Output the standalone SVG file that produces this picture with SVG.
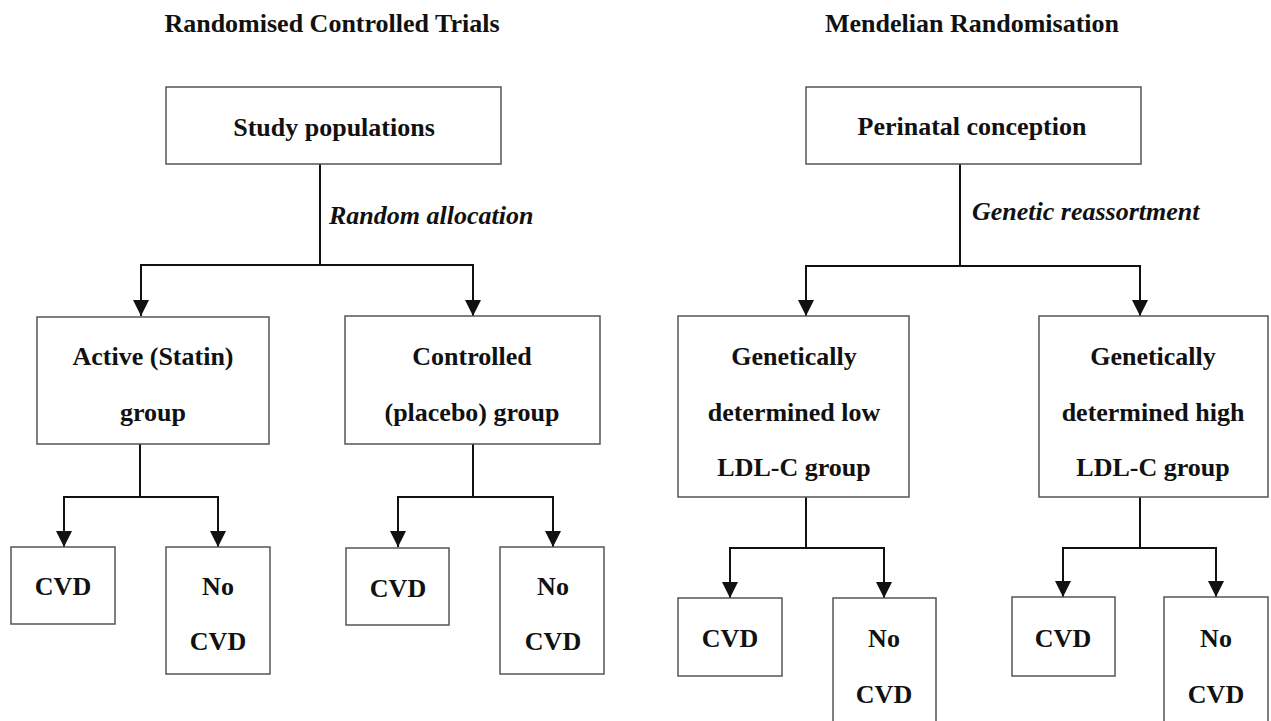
<svg xmlns="http://www.w3.org/2000/svg" width="1271" height="721" viewBox="0 0 1271 721">
<style>
  text { font-family: "Liberation Serif", "Times New Roman", serif; font-weight: bold; font-size: 26px; fill: #111; text-anchor: middle; }
  .lbl { font-style: italic; text-anchor: start; }
  .box { fill: #fff; stroke: #555; stroke-width: 1.5; }
  .edge { fill: none; stroke: #111; stroke-width: 2; marker-end: url(#arr); }
</style>
<defs>
  <marker id="arr" markerUnits="userSpaceOnUse" markerWidth="16" markerHeight="16" refX="16" refY="8" orient="auto" viewBox="0 0 16 16">
    <path d="M0,0 L16,8 L0,16 z" fill="#111"/>
  </marker>
</defs>
<rect width="1271" height="721" fill="#fff"/>

<text id="title-rct" x="332" y="32">Randomised Controlled Trials</text>
<text id="title-mr" x="972" y="32">Mendelian Randomisation</text>

<g id="connectors">
  <path class="edge" d="M320,164 V265 H141 V316"/>
  <path class="edge" d="M320,164 V265 H473 V316"/>
  <path class="edge" d="M140,444 V497 H64 V547"/>
  <path class="edge" d="M140,444 V497 H218 V547"/>
  <path class="edge" d="M473,444 V497 H398 V547"/>
  <path class="edge" d="M473,444 V497 H553 V547"/>
  <path class="edge" d="M960,164 V266 H806 V316"/>
  <path class="edge" d="M960,164 V266 H1140 V316"/>
  <path class="edge" d="M806,497 V548 H730 V598"/>
  <path class="edge" d="M806,497 V548 H884 V598"/>
  <path class="edge" d="M1140,497 V548 H1063 V597"/>
  <path class="edge" d="M1140,497 V548 H1216 V597"/>
  <text class="lbl" x="329" y="224">Random allocation</text>
  <text class="lbl" x="972" y="220">Genetic reassortment</text>
</g>

<g id="study">
  <rect class="box" x="166" y="87" width="335" height="77"/>
  <text x="334" y="136">Study populations</text>
</g>
<g id="active">
  <rect class="box" x="37" y="317" width="232" height="127"/>
  <text x="153" y="365">Active (Statin)</text>
  <text x="153" y="421">group</text>
</g>
<g id="controlled">
  <rect class="box" x="345" y="316" width="255" height="128"/>
  <text x="472" y="365">Controlled</text>
  <text x="472" y="421">(placebo) group</text>
</g>
<g id="rct-a-cvd">
  <rect class="box" x="11" y="547" width="104" height="77"/>
  <text x="63" y="595">CVD</text>
</g>
<g id="rct-a-nocvd">
  <rect class="box" x="166" y="547" width="104" height="127"/>
  <text x="218" y="595">No</text>
  <text x="218" y="650">CVD</text>
</g>
<g id="rct-c-cvd">
  <rect class="box" x="346" y="548" width="103" height="77"/>
  <text x="398" y="597">CVD</text>
</g>
<g id="rct-c-nocvd">
  <rect class="box" x="500" y="547" width="104" height="127"/>
  <text x="553" y="595">No</text>
  <text x="553" y="650">CVD</text>
</g>

<g id="perinatal">
  <rect class="box" x="806" y="87" width="335" height="77"/>
  <text x="972" y="135">Perinatal conception</text>
</g>
<g id="gen-low">
  <rect class="box" x="678" y="316" width="231" height="181"/>
  <text x="794" y="365">Genetically</text>
  <text x="794" y="421">determined low</text>
  <text x="794" y="476">LDL-C group</text>
</g>
<g id="gen-high">
  <rect class="box" x="1039" y="316" width="229" height="181"/>
  <text x="1153" y="365">Genetically</text>
  <text x="1153" y="421">determined high</text>
  <text x="1153" y="476">LDL-C group</text>
</g>
<g id="mr-l-cvd">
  <rect class="box" x="678" y="598" width="104" height="78"/>
  <text x="730" y="647">CVD</text>
</g>
<g id="mr-l-nocvd">
  <rect class="box" x="833" y="598" width="103" height="132"/>
  <text x="884" y="647">No</text>
  <text x="884" y="703">CVD</text>
</g>
<g id="mr-h-cvd">
  <rect class="box" x="1012" y="597" width="103" height="79"/>
  <text x="1063" y="647">CVD</text>
</g>
<g id="mr-h-nocvd">
  <rect class="box" x="1164" y="597" width="104" height="133"/>
  <text x="1216" y="647">No</text>
  <text x="1216" y="703">CVD</text>
</g>
</svg>
